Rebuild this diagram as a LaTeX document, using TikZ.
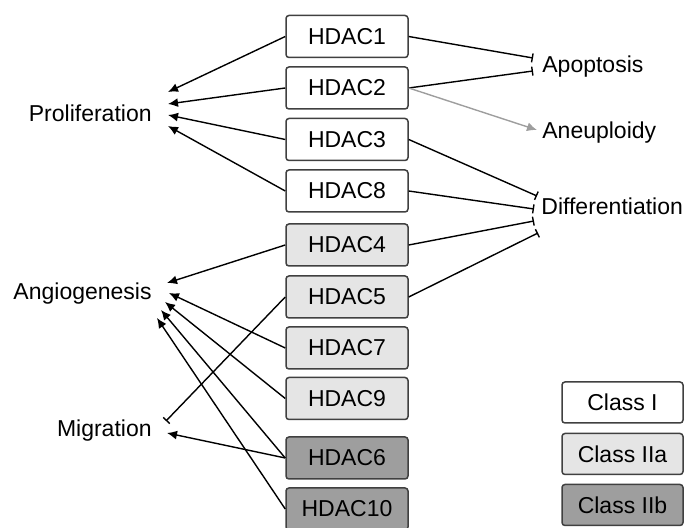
\documentclass[tikz,border=0pt]{standalone}
\usepackage{fontspec}
\setmainfont{Liberation Sans}
\usepackage{xcolor}
\usepackage{tikz}
\usetikzlibrary{arrows.meta}

\definecolor{clsI}{gray}{1}
\definecolor{clsIIa}{gray}{0.90}
\definecolor{clsIIb}{gray}{0.62}
\definecolor{boxline}{gray}{0.25}
\definecolor{faint}{gray}{0.62}

\begin{document}
\begin{tikzpicture}[x=0.5pt, y=-0.5pt, font=\fontsize{11.5}{13}\selectfont,
		hdac/.style={draw=boxline, line width=0.75pt, rounded corners=1.5pt, minimum width=61pt, minimum height=21pt, inner sep=0pt},
		lbl/.style={inner sep=0pt},
		act/.style={line width=0.7pt, -{Latex[length=5pt, width=4.5pt]}},
		inh/.style={line width=0.7pt, -{Bar[width=4.5pt, line width=0.7pt]}}]
			\useasboundingbox (0,0) rectangle (687,528);
			% HDAC column
			\node[hdac, fill=clsI] (hdac1) at (347,36.5) {HDAC1};
			\node[hdac, fill=clsI] (hdac2) at (347,88) {HDAC2};
			\node[hdac, fill=clsI] (hdac3) at (347,139.5) {HDAC3};
			\node[hdac, fill=clsI] (hdac8) at (347,191) {HDAC8};
			\node[hdac, fill=clsIIa] (hdac4) at (347,245) {HDAC4};
			\node[hdac, fill=clsIIa] (hdac5) at (347,297) {HDAC5};
			\node[hdac, fill=clsIIa] (hdac7) at (347,348) {HDAC7};
			\node[hdac, fill=clsIIa] (hdac9) at (347,398.5) {HDAC9};
			\node[hdac, fill=clsIIb] (hdac6) at (347,458) {HDAC6};
			\node[hdac, fill=clsIIb] (hdac10) at (347,509) {HDAC10};
			% legend
			\node[hdac, fill=clsI, minimum width=60.5pt, minimum height=20.5pt] (legI) at (622.5,402.5) {Class I};
			\node[hdac, fill=clsIIa, minimum width=60.5pt, minimum height=20.5pt] (legIIa) at (622.5,454) {Class IIa};
			\node[hdac, fill=clsIIb, minimum width=60.5pt, minimum height=20.5pt] (legIIb) at (622.5,505) {Class IIb};
			% outcomes
			\node[lbl, anchor=base east] (prolif) at (152,122) {Proliferation};
			\node[lbl, anchor=base east] (angio) at (152,300) {Angiogenesis};
			\node[lbl, anchor=base east] (migr) at (152,437) {Migration};
			\node[lbl, anchor=base west] (apop) at (542,73) {Apoptosis};
			\node[lbl, anchor=base west] (aneu) at (542,139) {Aneuploidy};
			\node[lbl, anchor=base west] (diff) at (541,215) {Differentiation};
			% end points
			\coordinate (p1) at (168,92);
			\coordinate (p2) at (168,104);
			\coordinate (p3) at (168,115);
			\coordinate (p4) at (168,126);
			\coordinate (a1) at (533,58);
			\coordinate (a2) at (533,71);
			\coordinate (n1) at (537,130);
			\coordinate (d1) at (537,196);
			\coordinate (d2) at (534,209);
			\coordinate (d3) at (534,221);
			\coordinate (d4) at (538,233);
			\coordinate (g1) at (167,283);
			\coordinate (g2) at (169,293);
			\coordinate (g3) at (165,302);
			\coordinate (g4) at (161,310);
			\coordinate (g5) at (157,318);
			\coordinate (m1) at (166,421);
			\coordinate (m2) at (167,433);
			% left side
			\draw[act] (hdac1.west) -- (p1);
			\draw[act] (hdac2.west) -- (p2);
			\draw[act] (hdac3.west) -- (p3);
			\draw[act] (hdac8.west) -- (p4);
			\draw[act] (hdac4.west) -- (g1);
			\draw[act] (hdac7.west) -- (g2);
			\draw[act] (hdac9.west) -- (g3);
			\draw[act] (hdac6.west) -- (g4);
			\draw[act] (hdac10.west) -- (g5);
			\draw[inh] (hdac5.west) -- (m1);
			\draw[act] (hdac6.west) -- (m2);
			% right side
			\draw[inh] (hdac1.east) -- (a1);
			\draw[inh] (hdac2.east) -- (a2);
			\draw[act, faint] (hdac2.east) -- (n1);
			\draw[inh] (hdac3.east) -- (d1);
			\draw[inh] (hdac8.east) -- (d2);
			\draw[inh] (hdac4.east) -- (d3);
			\draw[inh] (hdac5.east) -- (d4);
		\end{tikzpicture}
\end{document}
